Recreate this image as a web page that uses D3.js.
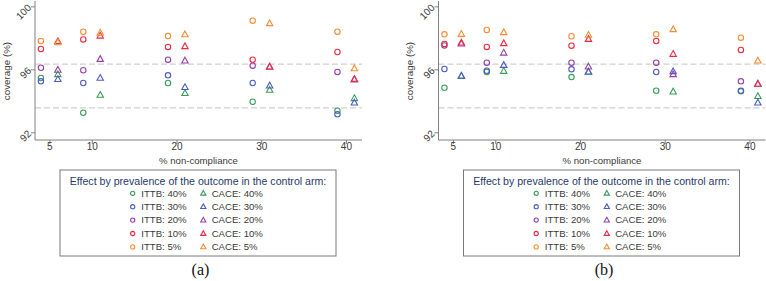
<!DOCTYPE html>
<html><head><meta charset="utf-8">
<script src="https://cdn.jsdelivr.net/npm/d3@7"></script>
<style>
html,body{margin:0;padding:0;background:#fff;}
svg{display:block;font-family:"Liberation Sans",Arial,sans-serif;}
</style></head>
<body><svg id="c" width="766" height="281"></svg>
<script>
const nonCompliance = [5, 10, 20, 30, 40];
const prevalence = ["40%", "30%", "20%", "10%", "5%"];
const seriesColors = ["#3a9c5a", "#4c5cc4", "#9441a8", "#ec2a44", "#f58d34"];
const yTicks = [92, 96, 100];
const refLines = [93.55, 96.33];

// Panel (a)
const ittbA_40 = [95.45, 93.24, 95.13, 93.94, 93.37];
const ittbA_30 = [95.24, 95.13, 95.62, 95.13, 93.14];
const ittbA_20 = [96.10, 95.94, 96.61, 96.23, 95.83];
const ittbA_10 = [97.29, 97.90, 97.42, 96.61, 97.10];
const ittbA_5  = [97.80, 98.39, 98.11, 99.09, 98.39];
const caceA_40 = [95.68, 94.37, 94.48, 94.69, 94.16];
const caceA_30 = [95.37, 95.45, 94.86, 94.96, 93.88];
const caceA_20 = [95.96, 96.65, 96.55, 96.15, 95.35];
const caceA_10 = [97.78, 98.13, 97.46, 96.17, 95.38];
const caceA_5  = [97.71, 98.32, 98.22, 98.92, 96.06];

// Panel (b)
const ittbB_40 = [94.83, 95.83, 95.51, 94.64, 94.60];
const ittbB_30 = [96.02, 95.91, 96.00, 95.83, 94.64];
const ittbB_20 = [97.52, 96.42, 96.42, 96.42, 95.24];
const ittbB_10 = [97.61, 97.42, 97.50, 97.80, 97.23];
const ittbB_5  = [98.22, 98.50, 98.10, 98.22, 98.01];
const caceB_40 = [95.56, 95.89, 95.83, 94.58, 94.29];
const caceB_30 = [95.59, 96.27, 95.85, 95.87, 93.88];
const caceB_20 = [97.63, 97.05, 96.17, 95.68, 95.07];
const caceB_10 = [97.69, 97.65, 97.92, 96.97, 95.07];
const caceB_5  = [98.24, 98.35, 98.18, 98.54, 96.55];

const panels = [
  {label: "(a)", left: 35, titleOff: 25, ittb: [ittbA_40, ittbA_30, ittbA_20, ittbA_10, ittbA_5],
   cace: [caceA_40, caceA_30, caceA_20, caceA_10, caceA_5]},
  {label: "(b)", left: 438.5, titleOff: 26, ittb: [ittbB_40, ittbB_30, ittbB_20, ittbB_10, ittbB_5],
   cace: [caceB_40, caceB_30, caceB_20, caceB_10, caceB_5]}
];

const svg = d3.select("#c");
const axisCol = "#808080", textCol = "#3a3a3a";

function tri(s) {
  const h = s * 0.9;
  return `M0,${-h*0.6}L${s/2},${h*0.4}L${-s/2},${h*0.4}Z`;
}

panels.forEach(p => {
  const g = svg.append("g");
  const x = d3.scaleLinear().domain([3.3, 41.9]).range([p.left, p.left + 327]);
  const y = d3.scaleLinear().domain([91.51, 100.34]).range([140, 1]);

  // reference lines
  g.selectAll("line.ref").data(refLines).join("line")
    .attr("x1", x.range()[0]).attr("x2", x.range()[1])
    .attr("y1", d => y(d)).attr("y2", d => y(d))
    .attr("stroke", "#c4c4c4").attr("stroke-width", 1)
    .attr("stroke-dasharray", "6,3");

  // y axis
  const ya = g.append("g").attr("transform", `translate(${p.left},0)`)
    .call(d3.axisLeft(y).tickValues(yTicks).tickSize(4).tickFormat(d3.format("d")));
  ya.select(".domain").attr("stroke", axisCol).attr("d", `M0,${y.range()[1]}V${y.range()[0]}`);
  ya.selectAll(".tick line").attr("stroke", axisCol);
  ya.selectAll(".tick text").attr("fill", textCol).style("font-size", "10px")
    .attr("x", -5).attr("dy", "0.32em")
    .attr("transform", "rotate(-45,-6,0)")
    .attr("text-anchor", "end");

  // x axis
  const xa = g.append("g").attr("transform", `translate(0,140)`)
    .call(d3.axisBottom(x).tickValues(nonCompliance).tickSize(4));
  xa.select(".domain").attr("stroke", axisCol).attr("d", `M${x.range()[0]},0H${x.range()[1]}`);
  xa.selectAll(".tick line").attr("stroke", axisCol);
  xa.selectAll(".tick text").attr("fill", textCol).style("font-size", "10px").attr("y", 3);

  g.append("text").attr("x", (x.range()[0] + x.range()[1]) / 2).attr("y", 164)
    .attr("text-anchor", "middle").attr("fill", textCol).style("font-size", "9.6px")
    .text("% non-compliance");
  g.append("text").attr("transform", `translate(${p.left - p.titleOff},71) rotate(-90)`)
    .attr("text-anchor", "middle").attr("fill", textCol).style("font-size", "9.8px")
    .text("coverage (%)");

  // points
  prevalence.forEach((pv, i) => {
    g.selectAll(null).data(p.ittb[i]).join("circle")
      .attr("cx", (d, j) => x(nonCompliance[j] - 1)).attr("cy", d => y(d))
      .attr("r", 2.7).attr("fill", "none").attr("stroke", seriesColors[i]).attr("stroke-width", 1.1);
    g.selectAll(null).data(p.cace[i]).join("path")
      .attr("transform", (d, j) => `translate(${x(nonCompliance[j] + 1)},${y(d)})`)
      .attr("d", tri(6.4)).attr("fill", "none").attr("stroke", seriesColors[i]).attr("stroke-width", 1.1);
  });

  // legend
  const lx = p.left + 25, ly = 170, lw = 276, lh = 86;
  const lg = g.append("g");
  lg.append("rect").attr("x", lx).attr("y", ly).attr("width", lw).attr("height", lh)
    .attr("fill", "#fff").attr("stroke", "#7a7a7a").attr("stroke-width", 1);
  lg.append("text").attr("x", lx + lw / 2).attr("y", ly + 14.5).attr("text-anchor", "middle")
    .attr("fill", "#283a6a").style("font-size", "10.6px")
    .text("Effect by prevalence of the outcome in the control arm:");
  prevalence.forEach((pv, i) => {
    const ry = ly + 23.3 + i * 13.4;
    lg.append("circle").attr("cx", lx + 72.7).attr("cy", ry).attr("r", 2.1)
      .attr("fill", "none").attr("stroke", seriesColors[i]).attr("stroke-width", 1.1);
    lg.append("text").attr("x", lx + 81.3).attr("y", ry).attr("dy", "0.35em")
      .attr("fill", textCol).style("font-size", "9.6px").text("ITTB: " + pv);
    lg.append("path").attr("transform", `translate(${lx + 143.3},${ry})`).attr("d", tri(5.2))
      .attr("fill", "none").attr("stroke", seriesColors[i]).attr("stroke-width", 1.1);
    lg.append("text").attr("x", lx + 151.7).attr("y", ry).attr("dy", "0.35em")
      .attr("fill", textCol).style("font-size", "9.6px").text("CACE: " + pv);
  });

  g.append("text").attr("x", (x.range()[0] + x.range()[1]) / 2 + 2).attr("y", 275)
    .attr("text-anchor", "middle").attr("fill", "#111")
    .style("font-family", "'Liberation Serif','Times New Roman',serif").style("font-size", "16px")
    .text(p.label);
});
</script></body></html>
